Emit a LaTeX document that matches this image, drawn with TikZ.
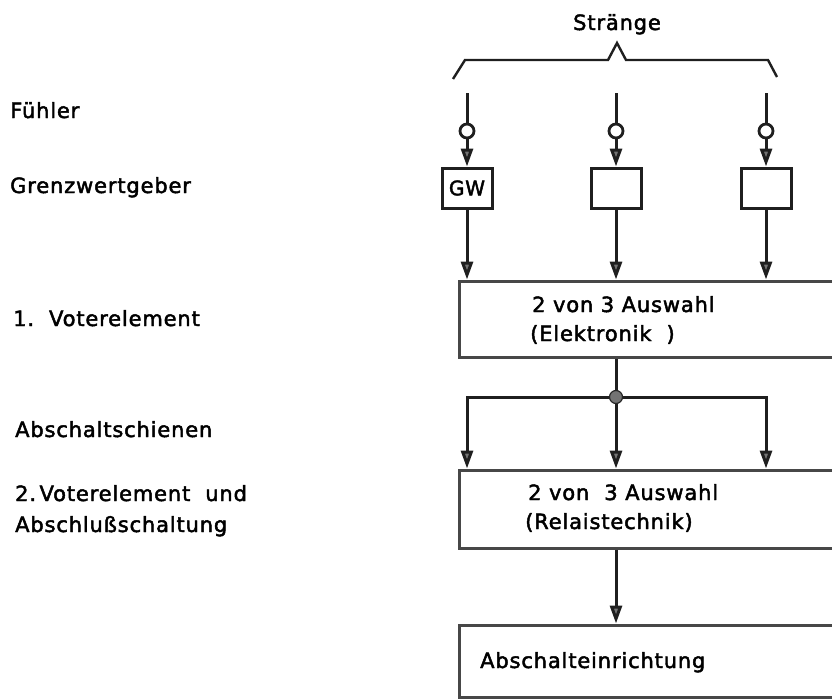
\documentclass[tikz,border=0pt]{standalone}
\usepackage{fontspec}
\setmainfont{DejaVu Sans}[LetterSpace=4, FakeBold=2.2]
\usetikzlibrary{arrows.meta}

\begin{document}
\begin{tikzpicture}[x=1pt,y=-1pt,
  ink/.style={line width=3pt, draw=black!88},
  flow/.style={ink, -{Triangle[length=18pt,width=12pt,fill=black!55]}},
  bigbox/.style={ink, draw=black!72, rectangle, inner sep=0pt, minimum width=380pt},
  gwbox/.style={ink, rectangle, minimum width=50pt, minimum height=40pt, inner sep=0pt, font=\fontsize{20}{22}\selectfont},
  sensor/.style={ink, circle, minimum size=14pt, inner sep=0pt, fill=white, line width=2.8pt},
  lbl/.style={anchor=base west, inner sep=0pt, font=\fontsize{21}{24}\selectfont},
  dot/.style={circle, fill=black!55, draw=black!85, line width=1.2pt, minimum size=13pt, inner sep=0pt},
]
\clip (0,0) rectangle (832,699);

% left-hand labels
\node[lbl] (lfuehler) at (10,118) {Fühler};
\node[lbl] (lgw) at (10,193) {Grenzwertgeber};
\node[lbl] (lvote1) at (13,326) {1.\ \ Voterelement};
\node[lbl] (lschienen) at (15,437) {Abschaltschienen};
\node[lbl] (lvote2) at (15,501) {2.\,Voterelement\ \ und};
\node[lbl] (labschluss) at (15,532) {Abschlußschaltung};

% strands heading with its brace
\node[lbl, anchor=base] (straenge) at (617,30) {Stränge};
\draw[ink, line width=2.4pt] (453,79) -- (465,60) -- (608,60) -- (617,43)
  -- (626,60) -- (768,60) -- (777,77);

% three strands: sensor, limit switch
\coordinate (t1) at (467,93);
\coordinate (t2) at (616,93);
\coordinate (t3) at (766,93);
\node[sensor] (s1) at (467,131) {};
\node[sensor] (s2) at (616,131) {};
\node[sensor] (s3) at (766,131) {};
\node[gwbox] (g1) at (467,188) {GW};
\node[gwbox] (g2) at (616,188) {};
\node[gwbox] (g3) at (766,188) {};

% voting stages
\node[bigbox, minimum height=76pt] (box1) at (649,319) {};
\node[bigbox, minimum height=78pt] (box2) at (649,509) {};
\node[bigbox, minimum height=72pt] (box3) at (649,661) {};

\node[lbl] (b1a) at (532,312) {2 von 3 Auswahl};
\node[lbl] (b1b) at (530,341) {(Elektronik \ )};
\node[lbl] (b2a) at (528,500) {2 von \ 3 Auswahl};
\node[lbl] (b2b) at (525,529) {(Relaistechnik)};
\node[lbl] (b3a) at (480,668) {Abschalteinrichtung};

% strand connections
\foreach \i in {1,2,3}{
  \draw[ink] (t\i) -- (s\i);
  \draw[flow] (s\i) -- (g\i);
  \draw[flow] (g\i) -- (g\i |- box1.north);
}

% trip buses
\coordinate (j) at (616,397);
\coordinate (jl) at (467,397);
\coordinate (jr) at (766,397);
\draw[ink] (j |- box1.south) -- (j);
\draw[flow] (j) -| (jl |- box2.north);
\draw[flow] (j) -| (jr |- box2.north);
\draw[flow] (j) -- (j |- box2.north);
\node[dot] (jd) at (j) {};

\draw[flow] (j |- box2.south) -- (j |- box3.north);
\end{tikzpicture}
\end{document}
